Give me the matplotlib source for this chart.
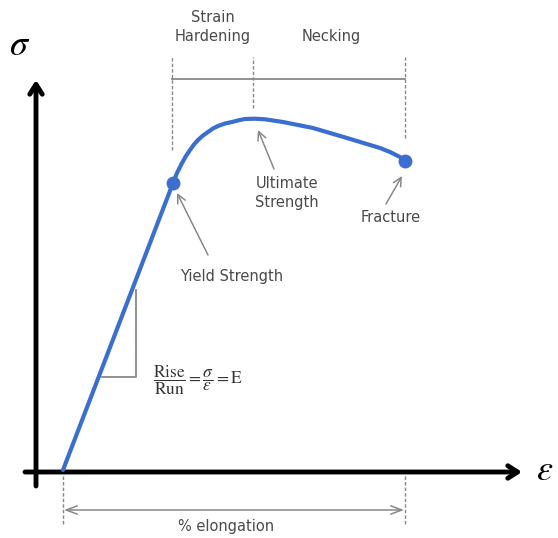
import matplotlib
matplotlib.use("Agg")
import matplotlib.pyplot as plt

# Stress-strain curve (arbitrary units: strain, stress)
strain = [0, 110, 114, 119, 123, 127, 131, 135, 140, 145, 150, 155, 162, 169, 176, 182, 192, 202,
          220, 250, 284, 317, 327, 337, 342]
stress = [0, 287, 297, 307, 314, 320, 325.5, 330, 334.5, 338, 341.5, 344, 346.5, 348, 349.8, 351, 351.3, 350.7,
          348, 342, 332, 322, 318, 313, 309]

yield_pt = (110, 287)
ultimate_pt = (190, 351)
fracture_pt = (342, 309)

phase_labels = ["Strain\nHardening", "Necking"]
point_labels = ["Yield Strength", "Ultimate\nStrength", "Fracture"]
elong_label = "% elongation"

fig = plt.figure(figsize=(5.58, 5.38), dpi=100)
ax = fig.add_axes([0, 0, 1, 1])
ax.set_xlim(-63, 495)
ax.set_ylim(470 - 538, 470)
ax.axis("off")

blue = "#3a6fd1"
gray = "#888888"
tcol = "#4a4a4a"
font = "DejaVu Sans"
fs = 10.5

# axes arrows
ax.annotate("", xy=(522 - 63, -2), xytext=(25 - 63, -2),
            arrowprops=dict(arrowstyle="->,head_length=0.7,head_width=0.45", lw=3.5, color="black",
                            shrinkA=0, shrinkB=0))
ax.annotate("", xy=(36 - 63, 470 - 80), xytext=(36 - 63, 470 - 486),
            arrowprops=dict(arrowstyle="->,head_length=0.7,head_width=0.45", lw=3.5, color="black",
                            shrinkA=0, shrinkB=0))
ax.text(20 - 63, 470 - 45, r"$\sigma$", fontsize=26, ha="center", va="center",
        math_fontfamily="stix")
ax.text(545 - 63, 0, r"$\varepsilon$", fontsize=26, ha="center", va="center",
        math_fontfamily="stix")

# curve
ax.plot(strain, stress, color=blue, lw=3, solid_capstyle="round", solid_joinstyle="round", zorder=3)
ax.plot([yield_pt[0], fracture_pt[0]], [yield_pt[1], fracture_pt[1]], "o", color=blue, ms=9, zorder=4)

# dashed phase boundaries
dash = dict(color=gray, lw=1, ls=(0, (2.5, 1.5)))
ax.plot([yield_pt[0] - 1, yield_pt[0] - 1], [470 - 150, 470 - 57], **dash)
ax.plot([ultimate_pt[0], ultimate_pt[0]], [470 - 108, 470 - 57], **dash)
ax.plot([fracture_pt[0], fracture_pt[0]], [470 - 138, 470 - 57], **dash)
ax.plot([yield_pt[0] - 1, fracture_pt[0]], [470 - 79, 470 - 79], color=gray, lw=1.3)

ax.text(213 - 63, 470 - 27, phase_labels[0], fontsize=fs, ha="center", va="center",
        color=tcol, family=font, linespacing=1.35)
ax.text(331 - 63, 470 - 36, phase_labels[1], fontsize=fs, ha="center", va="center",
        color=tcol, family=font)

# point annotations
arr = dict(arrowstyle="->,head_length=0.6,head_width=0.3", color=gray, lw=1.1, shrinkA=0, shrinkB=0)
ax.annotate("", xy=(177 - 63, 470 - 193), xytext=(208 - 63, 470 - 255), arrowprops=arr)
ax.text(232 - 63, 470 - 277, point_labels[0], fontsize=fs, ha="center", va="center",
        color=tcol, family=font)
ax.annotate("", xy=(258 - 63, 470 - 130), xytext=(274 - 63, 470 - 169), arrowprops=arr)
ax.text(287 - 63, 470 - 193, point_labels[1], fontsize=fs, ha="center", va="center",
        color=tcol, family=font, linespacing=1.35)
ax.annotate("", xy=(402 - 63, 470 - 176), xytext=(386 - 63, 470 - 204), arrowprops=arr)
ax.text(391 - 63, 470 - 218, point_labels[2], fontsize=fs, ha="center", va="center",
        color=tcol, family=font)

# slope triangle
ax.plot([136 - 63, 136 - 63, 102 - 63], [470 - 290, 470 - 377, 470 - 377], color=gray, lw=1.3)
ax.text(153 - 63, 470 - 380,
        r"$\dfrac{\mathrm{Rise}}{\mathrm{Run}}=\dfrac{\sigma}{\varepsilon}=\mathrm{E}$",
        fontsize=12.5, ha="left", va="center", color="#333333", math_fontfamily="stix")

# elongation
ax.plot([0, 0], [470 - 476, 470 - 524], **dash)
ax.plot([fracture_pt[0], fracture_pt[0]], [470 - 476, 470 - 524], **dash)
ax.annotate("", xy=(fracture_pt[0] - 1, 470 - 510), xytext=(1, 470 - 510),
            arrowprops=dict(arrowstyle="<->,head_length=0.8,head_width=0.3", color=gray, lw=1.1,
                            shrinkA=0, shrinkB=0))
ax.text(226 - 63, 470 - 527, elong_label, fontsize=fs, ha="center", va="center",
        color=tcol, family=font)

fig.savefig("out.png", dpi=100)
